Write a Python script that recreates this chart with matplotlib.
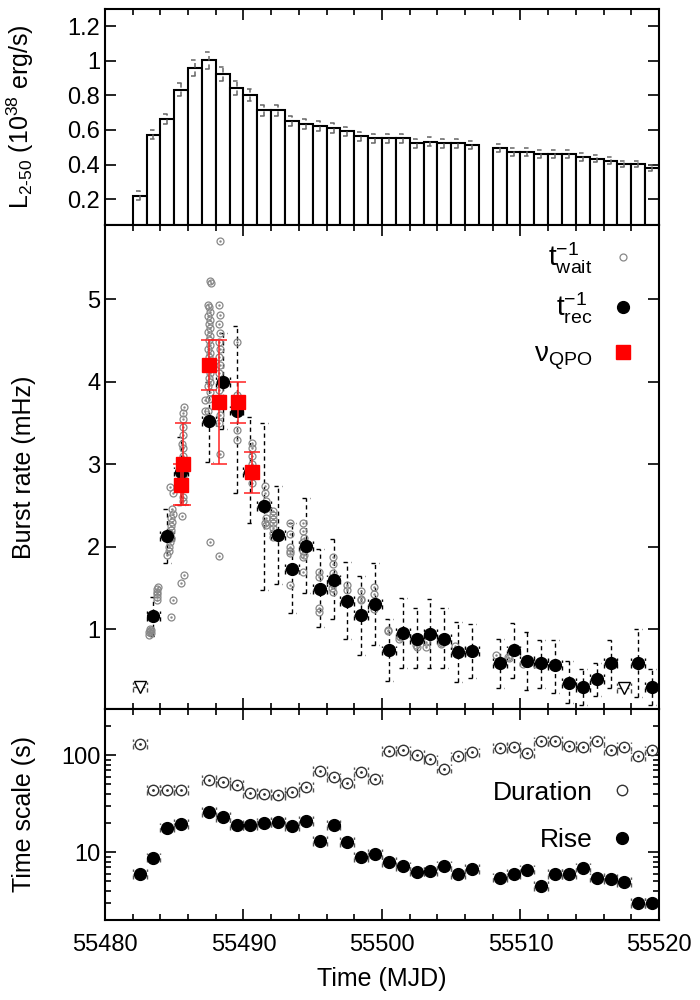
import matplotlib
matplotlib.use('Agg')
import matplotlib.pyplot as plt
import numpy as np
from matplotlib.ticker import MultipleLocator, FixedLocator, NullFormatter, LogLocator

plt.rcParams['font.family'] = ['Liberation Sans', 'DejaVu Sans']
plt.rcParams['mathtext.fontset'] = 'custom'
plt.rcParams['mathtext.rm'] = 'Liberation Sans'
plt.rcParams['mathtext.it'] = 'Liberation Sans:italic'
plt.rcParams['mathtext.default'] = 'regular'

# ---------------- data ----------------
# Top panel: daily luminosity (10^38 erg/s)
lum_start = [55482, 55483, 55484, 55485, 55486, 55487, 55488, 55489, 55490, 55491,
             55492, 55493, 55494, 55495, 55496, 55497, 55498, 55499, 55500, 55501,
             55502, 55503, 55504, 55505, 55506,
             55508, 55509, 55510, 55511, 55512, 55513, 55514, 55515, 55516, 55517,
             55518, 55519]
lum_val = [0.219, 0.573, 0.664, 0.833, 0.959, 1.002, 0.924, 0.843, 0.802, 0.713,
           0.713, 0.652, 0.633, 0.621, 0.612, 0.592, 0.563, 0.553, 0.553, 0.553,
           0.522, 0.532, 0.522, 0.522, 0.513,
           0.493, 0.472, 0.472, 0.462, 0.462, 0.462, 0.443, 0.433, 0.423, 0.402,
           0.402, 0.382]
lum_err = [0.025, 0.027, 0.031, 0.037, 0.045, 0.047, 0.041, 0.040, 0.037, 0.034,
           0.034, 0.031, 0.030, 0.029, 0.029, 0.028, 0.027, 0.026, 0.026, 0.026,
           0.025, 0.025, 0.025, 0.025, 0.024,
           0.023, 0.022, 0.022, 0.022, 0.022, 0.022, 0.021, 0.020, 0.020, 0.019,
           0.019, 0.018]

# Middle panel: inverse waiting times (mHz), individual bursts
wait_x = [55483.2, 55483.2, 55483.25, 55483.25, 55483.3, 55483.3,
          55483.75, 55483.75, 55483.78, 55483.75, 55483.78, 55483.8,
          55484.45, 55484.9, 55484.8, 55485.7, 55485.5,
          55484.6, 55484.65, 55484.7, 55484.75, 55484.7, 55484.8, 55484.75, 55484.85, 55484.8, 55484.9, 55484.85,
          55484.7, 55484.93, 55485.54,
          55485.6, 55485.62, 55485.58, 55485.65, 55485.6, 55485.62, 55485.58, 55485.65, 55485.6, 55485.62,
          55485.58, 55485.65, 55485.6, 55485.62, 55485.65, 55485.7,
          55487.2, 55487.2,
          55487.6, 55487.65, 55487.45, 55487.5, 55487.6, 55487.45, 55487.55, 55487.5, 55487.6, 55487.45,
          55487.55, 55487.5, 55487.6, 55487.45, 55487.55, 55487.5, 55487.6, 55487.45, 55487.55, 55487.5,
          55487.6, 55487.45, 55487.55, 55487.5, 55487.45, 55487.6,
          55488.3, 55488.25, 55488.3, 55488.25, 55488.3, 55488.25, 55488.3, 55488.25, 55488.3, 55488.25,
          55488.3, 55488.25, 55488.3, 55488.25, 55488.3, 55488.25, 55488.27, 55488.2,
          55489.5, 55489.5, 55489.5, 55489.5,
          55490.6, 55490.62, 55490.58, 55490.6, 55490.62, 55490.58, 55490.6, 55490.62,
          55491.55, 55491.55, 55491.6, 55491.55, 55491.6, 55491.55, 55491.6,
          55492.1, 55492.15, 55492.1, 55492.15, 55492.1, 55492.15, 55492.1,
          55493.35, 55493.35, 55493.35, 55493.35, 55493.35, 55493.35,
          55494.3, 55494.3, 55494.35, 55494.3, 55494.35, 55494.3, 55494.35, 55494.3, 55494.3,
          55495.45, 55495.45, 55495.45, 55495.45,
          55496.45, 55496.45, 55496.45, 55496.4, 55496.45, 55496.4, 55496.45,
          55497.45, 55497.45,
          55498.5, 55498.5, 55498.5,
          55499.4, 55499.4, 55499.4,
          55500.4, 55500.45,
          55501.3, 55501.25,
          55502.5, 55502.45, 55502.5,
          55503.2, 55503.2,
          55504.3, 55504.25,
          55505.3,
          55508.2,
          55509.1, 55509.15,
          55510.2,
          55511.1]
wait_y = [0.93, 0.96, 0.98, 1.00, 0.95, 0.99,
          1.35, 1.39, 1.42, 1.45, 1.48, 1.51,
          1.90, 1.35, 1.14, 1.65, 1.56,
          1.95, 2.00, 2.05, 2.10, 2.15, 2.20, 2.25, 2.30, 2.35, 2.40, 2.45,
          2.72, 2.65, 2.37,
          2.55, 2.60, 2.70, 2.80, 2.85, 2.90, 2.95, 3.05, 3.10, 3.20,
          3.25, 3.35, 3.45, 3.55, 3.62, 3.69,
          3.78, 3.64,
          5.22, 5.20, 4.93, 4.90, 4.85, 4.80, 4.75, 4.70, 4.65, 4.60,
          4.55, 4.50, 4.45, 4.40, 4.35, 4.30, 4.25, 4.20, 4.10, 4.05,
          4.00, 3.95, 3.88, 3.79, 3.64, 2.05,
          5.70, 4.93, 4.81, 4.70, 4.59, 4.48, 4.40, 4.30, 4.20, 4.10,
          4.00, 3.90, 3.80, 3.70, 3.60, 3.50, 3.12, 1.88,
          4.48, 3.84, 3.41, 3.29,
          3.26, 3.20, 3.10, 3.00, 2.95, 2.90, 2.85, 2.77,
          2.73, 2.65, 2.55, 2.45, 2.35, 2.29, 2.26,
          2.43, 2.38, 2.33, 2.28, 2.22, 2.16, 2.11,
          2.29, 2.15, 2.00, 1.95, 1.92, 1.53,
          2.29, 2.19, 2.10, 2.05, 2.00, 1.95, 1.90, 1.87, 1.69,
          1.69, 1.63, 1.25, 1.21,
          1.87, 1.79, 1.68, 1.62, 1.55, 1.50, 1.45,
          1.53, 1.47,
          1.46, 1.37, 1.35,
          1.51, 1.42, 1.24,
          0.98, 0.99,
          0.90, 0.88,
          0.84, 0.81, 0.78,
          0.84, 0.78,
          0.83, 0.82,
          0.79,
          0.68,
          0.66, 0.65,
          0.58,
          0.57]

# Middle panel: inverse recurrence times (mHz), daily
rec_x = [55483.5, 55484.5, 55485.5, 55487.5, 55488.5, 55489.5, 55490.5, 55491.5, 55492.5,
         55493.5, 55494.5, 55495.5, 55496.5, 55497.5, 55498.5, 55499.5, 55500.5, 55501.5,
         55502.5, 55503.5, 55504.5, 55505.5, 55506.5, 55508.5, 55509.5, 55510.5, 55511.5,
         55512.5, 55513.5, 55514.5, 55515.5, 55516.5, 55518.5, 55519.5]
rec_y = [1.16, 2.13, 2.91, 3.52, 4.00, 3.65, 2.90, 2.49, 2.14,
         1.73, 2.01, 1.49, 1.60, 1.34, 1.17, 1.30, 0.74, 0.95,
         0.88, 0.94, 0.88, 0.72, 0.73, 0.59, 0.74, 0.61, 0.59,
         0.56, 0.35, 0.295, 0.39, 0.59, 0.59, 0.295]
rec_hi = [1.39, 2.46, 3.33, 4.00, 4.59, 4.67, 3.57, 3.50, 2.73,
          2.29, 2.59, 1.97, 2.09, 1.81, 1.64, 1.80, 1.12, 1.38,
          1.25, 1.36, 1.25, 1.08, 1.06, 0.88, 1.07, 0.96, 0.87,
          0.87, 0.61, 0.51, 0.59, 0.87, 1.00, 0.51]
rec_lo = [0.91, 1.80, 2.50, 3.03, 3.42, 2.65, 2.29, 1.47, 1.55,
          1.19, 1.44, 1.02, 1.12, 0.88, 0.69, 0.81, 0.37, 0.53,
          0.53, 0.53, 0.53, 0.36, 0.40, 0.29, 0.41, 0.26, 0.29,
          0.23, 0.10, 0.08, 0.19, 0.29, 0.17, 0.08]

# Upper limits (open triangles)
ul_x = [55482.5, 55517.5]
ul_y = [0.30, 0.28]

# QPO frequencies (mHz)
qpo_x = [55485.46, 55485.6, 55487.53, 55488.25, 55489.6, 55490.6]
qpo_y = [2.75, 3.00, 4.20, 3.75, 3.75, 2.90]
qpo_err = [0.25, 0.50, 0.30, 0.75, 0.25, 0.25]

# Bottom panel: burst time scales (s)
ts_x = [55482.5, 55483.5, 55484.5, 55485.5, 55487.5, 55488.5, 55489.5, 55490.5, 55491.5,
        55492.5, 55493.5, 55494.5, 55495.5, 55496.5, 55497.5, 55498.5, 55499.5, 55500.5,
        55501.5, 55502.5, 55503.5, 55504.5, 55505.5, 55506.5, 55508.5, 55509.5, 55510.5,
        55511.5, 55512.5, 55513.5, 55514.5, 55515.5, 55516.5, 55517.5, 55518.5, 55519.5]
duration = [131, 44, 44, 44, 55.8, 52.8, 49.2, 40.6, 39.7,
            38.8, 41.6, 46.9, 68.7, 59.1, 51.6, 67.6, 56.8, 110,
            112, 101, 90.9, 72.7, 97.6, 107, 119, 121, 106,
            139, 141, 126, 122, 141, 112, 123, 97.6, 112]
rise = [6.0, 8.8, 17.9, 19.5, 26.0, 23.1, 18.9, 19.2, 20.2,
        20.6, 18.6, 21.1, 13.0, 19.2, 12.7, 8.95, 9.6, 7.94,
        7.16, 6.3, 6.35, 7.27, 5.96, 6.71, 5.46, 5.96, 6.6,
        4.48, 5.96, 5.96, 6.93, 5.46, 5.28, 4.96, 2.98, 2.98]

# ---------------- styling helpers ----------------
DASH = (0, (3, 2.5))
FS_TICK = 17
FS_LAB = 18


def style_axis(ax):
    ax.set_xlim(55480, 55520)
    ax.xaxis.set_major_locator(MultipleLocator(10))
    ax.xaxis.set_minor_locator(MultipleLocator(2))
    ax.tick_params(which='both', direction='in', top=True, right=True,
                   labelsize=FS_TICK, width=1.2)
    ax.tick_params(which='major', length=8)
    ax.tick_params(which='minor', length=4.5)
    for s in ax.spines.values():
        s.set_linewidth(1.5)


def xerr_dashed(ax, x, y, half, color, capfrac, log=False, lw=1.0):
    x = np.asarray(x, float)
    y = np.asarray(y, float)
    ax.hlines(y, x - half, x + half, colors=color, linestyles=DASH, lw=lw, zorder=2)
    if log:
        lo, hi = y / capfrac, y * capfrac
    else:
        lo, hi = y - capfrac, y + capfrac
    ax.vlines(x - half, lo, hi, colors=color, linestyles=DASH, lw=lw, zorder=2)
    ax.vlines(x + half, lo, hi, colors=color, linestyles=DASH, lw=lw, zorder=2)


def yerr_dashed(ax, x, lo, hi, capw, color, lw=1.0):
    x = np.asarray(x, float)
    ax.vlines(x, lo, hi, colors=color, linestyles=DASH, lw=lw, zorder=2)
    ax.hlines(lo, x - capw, x + capw, colors=color, linestyles=DASH, lw=lw, zorder=2)
    ax.hlines(hi, x - capw, x + capw, colors=color, linestyles=DASH, lw=lw, zorder=2)


fig = plt.figure(figsize=(7, 10), dpi=100)
ax1 = fig.add_axes([0.15, 0.775, 0.7914, 0.216])
ax2 = fig.add_axes([0.15, 0.291, 0.7914, 0.484])
ax3 = fig.add_axes([0.15, 0.080, 0.7914, 0.211])

# ---------------- top panel ----------------
lum_start_a = np.asarray(lum_start, float)
lum_val_a = np.asarray(lum_val)
lum_err_a = np.asarray(lum_err)
ax1.bar(lum_start_a, lum_val_a, width=1.0, align='edge', color='white',
        edgecolor='black', linewidth=1.5, zorder=1)
yerr_dashed(ax1, lum_start_a + 0.5, lum_val_a - lum_err_a, lum_val_a + lum_err_a,
            0.28, '#666666', lw=1.1)
style_axis(ax1)
ax1.set_ylim(0.05, 1.3)
ax1.yaxis.set_major_locator(FixedLocator([0.2, 0.4, 0.6, 0.8, 1.0, 1.2]))
ax1.set_yticklabels(['0.2', '0.4', '0.6', '0.8', '1', '1.2'])
ax1.xaxis.set_major_formatter(NullFormatter())
ax1.set_ylabel('L$_{2\u201050}$ (10$^{38}$ erg/s)', fontsize=FS_LAB)

# ---------------- middle panel ----------------
rec_x_a = np.asarray(rec_x)
yerr_dashed(ax2, rec_x_a, rec_lo, rec_hi, 0.28, 'black', lw=1.0)
xerr_dashed(ax2, rec_x_a, rec_y, 0.5, 'black', 0.06)
xerr_dashed(ax2, ul_x, ul_y, 0.5, '#444444', 0.06)

h_wait, = ax2.plot(wait_x, wait_y, 'o', ms=5, mfc='none', mec='#888888', mew=0.9,
                   linestyle='none', zorder=3)
ax2.plot(wait_x, wait_y, '.', ms=1.5, color='#888888', linestyle='none', zorder=3)
h_rec, = ax2.plot(rec_x, rec_y, 'o', ms=8.5, color='black', linestyle='none', zorder=5)
ax2.plot(ul_x, ul_y, 'v', ms=8, mfc='white', mec='black', mew=1.0,
         linestyle='none', zorder=5)
eb = ax2.errorbar(qpo_x, qpo_y, yerr=qpo_err, fmt='none', ecolor='#ff2020',
                  elinewidth=1.1, capsize=5.5, capthick=1.1, zorder=6)
h_qpo, = ax2.plot(qpo_x, qpo_y, 's', ms=10, color='#ff0000', linestyle='none', zorder=7)

style_axis(ax2)
ax2.set_ylim(0.03, 5.9)
ax2.yaxis.set_major_locator(FixedLocator([1, 2, 3, 4, 5]))
ax2.xaxis.set_major_formatter(NullFormatter())
ax2.set_ylabel('Burst rate (mHz)', fontsize=FS_LAB)

leg2 = ax2.legend([h_wait, h_rec, h_qpo],
                  ['$t^{-1}_{wait}$', '$t^{-1}_{rec}$', r'$\nu_{QPO}$'],
                  loc='upper right', frameon=False, markerfirst=False,
                  fontsize=20, handlelength=1.0, handletextpad=0.6,
                  labelspacing=0.55, borderaxespad=0.3,
                  bbox_to_anchor=(0.995, 1.008))

# ---------------- bottom panel ----------------
ax3.set_yscale('log')
xerr_dashed(ax3, ts_x, duration, 0.5, '#555555', 1.12, log=True)
xerr_dashed(ax3, ts_x, rise, 0.5, '#555555', 1.12, log=True)
h_dur, = ax3.plot(ts_x, duration, 'o', ms=7.5, mfc='white', mec='#333333', mew=1.0,
                  linestyle='none', zorder=4)
ax3.plot(ts_x, duration, '.', ms=2, color='#333333', linestyle='none', zorder=5)
h_rise, = ax3.plot(ts_x, rise, 'o', ms=8.5, color='black', linestyle='none', zorder=4)
style_axis(ax3)
ax3.set_ylim(2, 300)
ax3.yaxis.set_major_locator(FixedLocator([10, 100]))
ax3.set_yticklabels(['10', '100'])
ax3.yaxis.set_minor_locator(LogLocator(base=10, subs=(2, 3, 4, 5, 6, 7, 8, 9)))
ax3.yaxis.set_minor_formatter(NullFormatter())
ax3.set_ylabel('Time scale (s)', fontsize=FS_LAB)
ax3.set_xlabel('Time (MJD)', fontsize=FS_LAB, labelpad=8)
ax3.set_xticks([55480, 55490, 55500, 55510, 55520])
ax3.set_xticklabels(['55480', '55490', '55500', '55510', '55520'])
ax3.tick_params(axis='x', pad=10)

ax3.legend([h_dur, h_rise], ['Duration', 'Rise'], loc='center right',
           frameon=False, markerfirst=False, fontsize=FS_LAB + 1,
           handlelength=1.0, handletextpad=0.6, labelspacing=0.9,
           bbox_to_anchor=(1.0, 0.49))

for ax in (ax1, ax2, ax3):
    ax.yaxis.set_label_coords(-0.125, 0.5)

fig.savefig('out.png', dpi=100)
